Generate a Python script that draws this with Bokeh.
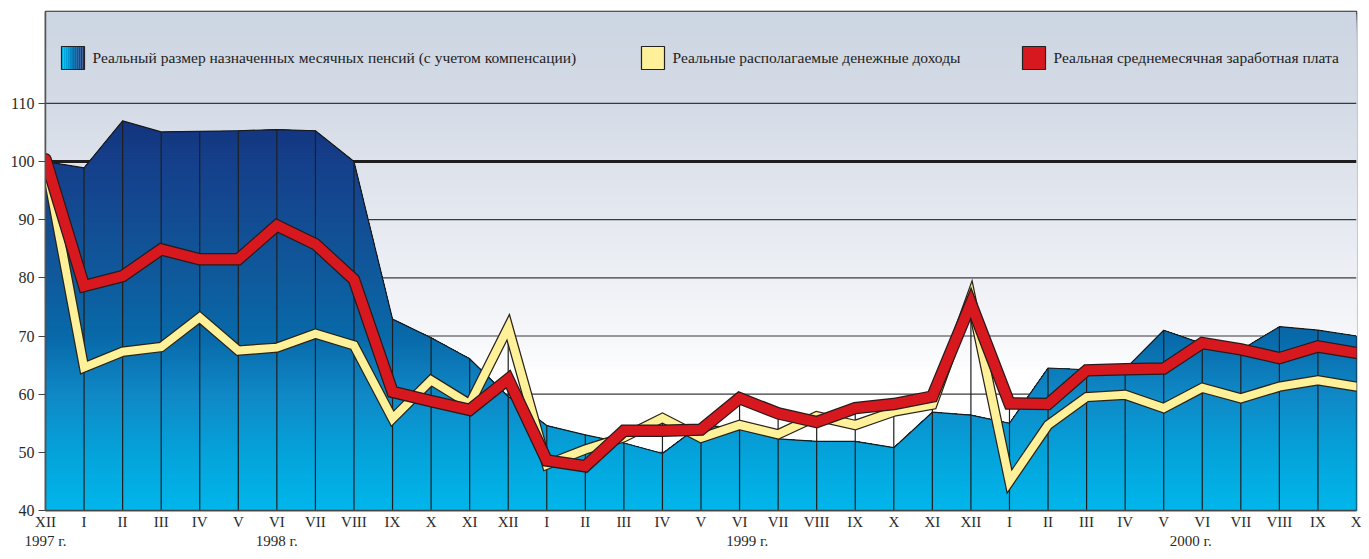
import numpy as np
from bokeh.plotting import figure
from bokeh.models import Range1d, FixedTicker, LinearAxis
from bokeh.embed import file_html
from bokeh.resources import INLINE
from bokeh.core.properties import value

# ---------------- data ----------------
months = ["XII", "I", "II", "III", "IV", "V", "VI", "VII", "VIII", "IX", "X", "XI", "XII",
          "I", "II", "III", "IV", "V", "VI", "VII", "VIII", "IX", "X", "XI", "XII",
          "I", "II", "III", "IV", "V", "VI", "VII", "VIII", "IX", "X"]
year_labels = ["1997 г.", "1998 г.", "1999 г.", "2000 г."]
year_positions = [0, 6, 18.2, 29.7]
pensions = [100.0, 98.9, 107.0, 105.1, 105.2, 105.3, 105.5, 105.3, 100.0, 72.9, 69.7, 66.1, 59.6,
            54.6, 53.0, 51.6, 49.8, 54.8, 54.0, 52.3, 51.9, 51.9, 50.8, 56.9, 56.4,
            55.0, 64.5, 64.2, 64.3, 71.0, 68.7, 67.6, 71.6, 71.0, 70.0]
income = [100.0, 64.6, 67.3, 68.1, 73.2, 67.5, 68.0, 70.4, 68.4, 55.8, 62.4, 58.3, 71.5,
          47.9, 50.5, 52.6, 55.9, 52.5, 54.7, 53.1, 56.2, 54.7, 57.0, 58.2, 76.6,
          45.0, 54.7, 59.5, 59.9, 57.6, 61.1, 59.3, 61.3, 62.4, 61.3]
wages = [100.4, 78.6, 80.3, 84.9, 83.2, 83.2, 89.0, 85.8, 79.7, 60.4, 58.8, 57.3, 62.6,
         48.6, 47.6, 53.7, 53.7, 53.9, 59.3, 56.7, 55.2, 57.6, 58.3, 59.6, 75.6,
         58.4, 58.3, 64.1, 64.3, 64.4, 68.8, 67.7, 66.2, 68.2, 67.1]
y_ticks = [40, 50, 60, 70, 80, 90, 100, 110]
legend_labels = ["Реальный размер назначенных месячных пенсий (с учетом компенсации)",
                 "Реальные располагаемые денежные доходы",
                 "Реальная среднемесячная заработная плата"]

# ---------------- layout constants ----------------
FONT = "Liberation Serif"
W, H = 1361, 551
BL, BR, BT, BB = 45, 5, 11, 41
FW, FH = W - BL - BR, H - BT - BB
Y0, Y1 = 40, 125.8
X0, X1 = 0, len(months) - 1

def dx(px):
    return X0 + (px - BL) * (X1 - X0) / FW

def dy(py):
    return Y1 - (py - BT) * (Y1 - Y0) / FH

def hex2rgb(h):
    h = h.lstrip("#")
    return np.array([int(h[i:i + 2], 16) for i in (0, 2, 4)], float)

def ramp(stops, v):
    vs = [s[0] for s in stops]
    cs = [hex2rgb(s[1]) for s in stops]
    rgb = [np.interp(v, vs, [c[k] for c in cs]) for k in range(3)]
    return "#%02x%02x%02x" % tuple(int(round(c)) for c in rgb)

x = np.arange(len(months), dtype=float)

p = figure(width=W, height=H, x_range=Range1d(X0, X1), y_range=Range1d(Y0, Y1),
           output_backend="svg", toolbar_location=None,
           min_border_left=BL, min_border_right=BR, min_border_top=BT, min_border_bottom=BB)
p.grid.visible = False
p.background_fill_color = "white"
p.border_fill_color = "white"
p.outline_line_color = "#2a2a2a"
p.outline_line_width = 1.5

# background gradient (style)
bg_stops = [(63, "#ffffff"), (70, "#f6f7fa"), (80, "#eef0f5"), (90, "#e5e9f0"),
            (100, "#dde2eb"), (110, "#d4dbe6"), (126, "#ccd5e2")]
levels = np.arange(Y1, 62.0, -0.5)
p.quad(left=X0, right=X1, bottom=Y0, top=levels,
       fill_color=[ramp(bg_stops, l) for l in levels], line_color=None)

# horizontal grid lines
gl = [t for t in y_ticks if t not in (40, 100)]
p.segment(x0=X0, x1=X1, y0=gl, y1=gl, line_color="#3a3a3a", line_width=1.2)
p.segment(x0=X0, x1=X1, y0=[100], y1=[100], line_color="#1e1e1e", line_width=3)

# pension area with vertical gradient (layered clipping)
area_stops = [(40, "#00b7eb"), (50, "#04a2da"), (60, "#1088c6"), (70, "#0869a9"),
              (80, "#0f5a9c"), (90, "#134c93"), (100, "#153f8a"), (108, "#12327c")]
pv = np.array(pensions, float)
step = 0.5
for b in np.arange(np.ceil(pv.max()) + step, Y0, -step):
    xs = list(x)
    for i in range(len(x) - 1):
        f0, f1 = pv[i], pv[i + 1]
        if (f0 - b) * (f1 - b) < 0:
            xs.append(x[i] + (b - f0) / (f1 - f0))
    xs = np.array(sorted(xs))
    top = np.minimum(np.interp(xs, x, pv), b)
    p.varea(x=xs, y1=Y0, y2=top, fill_color=ramp(area_stops, b - step / 2))

p.line(x, pensions, line_color="#1a1a1a", line_width=1.2)

# vertical month lines
vtop = np.maximum(np.maximum(pv, np.array(income)), np.array(wages))
p.segment(x0=x, x1=x, y0=Y0, y1=vtop, line_color="#1f1f1f", line_width=1.2)

# income line (yellow) and wage line (red)
p.line(x, income, line_color="#2a2418", line_width=10.5, line_join="miter", line_cap="round")
p.line(x, income, line_color="#fff09a", line_width=8, line_join="miter", line_cap="round")
p.line(x, wages, line_color="#2a1a1a", line_width=12.5, line_join="miter", line_cap="round")
p.line(x, wages, line_color="#d7191f", line_width=10, line_join="miter", line_cap="round")

# legend (manual)
sq_top, sq_bot = dy(46), dy(69)
ymid = dy(57)
lx = [61, 641, 1022]
nstrip = 12
edges = np.linspace(lx[0], lx[0] + 23, nstrip + 1)
p.quad(left=[dx(e) for e in edges[:-1]], right=[dx(e) for e in edges[1:]],
       top=sq_top, bottom=sq_bot,
       fill_color=[ramp([(0, "#00b7eb"), (1, "#13337e")], t) for t in np.linspace(0, 1, nstrip)],
       line_color=None)
p.quad(left=[dx(v) for v in lx], right=[dx(v + 23) for v in lx], top=sq_top, bottom=sq_bot,
       fill_color=[None, "#fff09a", "#d7191f"], line_color="#222222", line_width=1.2)
p.text(x=[dx(v + 31) for v in lx], y=ymid, text=legend_labels,
       text_font=value(FONT), text_font_size="15.5px", text_color="#222222",
       text_baseline="middle", text_align="left")

# axes
ya = p.yaxis[0]
ya.ticker = FixedTicker(ticks=y_ticks)
ya.major_label_text_font = FONT
ya.major_label_text_font_size = "16px"
ya.major_label_text_color = "#2a2a2a"
ya.major_tick_out = 7
ya.major_tick_in = 0
ya.minor_tick_line_color = None
ya.major_tick_line_color = "#444444"
ya.major_tick_line_width = 1.2
ya.axis_line_color = "#555555"
ya.axis_line_width = 1.5
ya.major_label_standoff = 4

xa = p.xaxis[0]
xa.ticker = FixedTicker(ticks=list(range(len(months))))
xa.major_label_overrides = {i: m for i, m in enumerate(months)}
xa.major_label_text_font = FONT
xa.major_label_text_font_size = "15px"
xa.major_label_text_color = "#2a2a2a"
xa.major_tick_line_color = None
xa.minor_tick_line_color = None
xa.major_tick_out = 0
xa.major_tick_in = 0
xa.axis_line_color = "#444444"
xa.axis_line_width = 1.5
xa.major_label_standoff = 3

ya2 = LinearAxis(ticker=FixedTicker(ticks=year_positions),
                 major_label_overrides={pos: lab for pos, lab in zip(year_positions, year_labels)},
                 axis_line_color=None, major_tick_line_color=None, minor_tick_line_color=None,
                 major_tick_out=0, major_tick_in=0, major_label_standoff=0,
                 major_label_text_font=FONT, major_label_text_font_size="15px",
                 major_label_text_color="#2a2a2a")
p.add_layout(ya2, "below")

open("out.html", "w").write(file_html(p, INLINE))
